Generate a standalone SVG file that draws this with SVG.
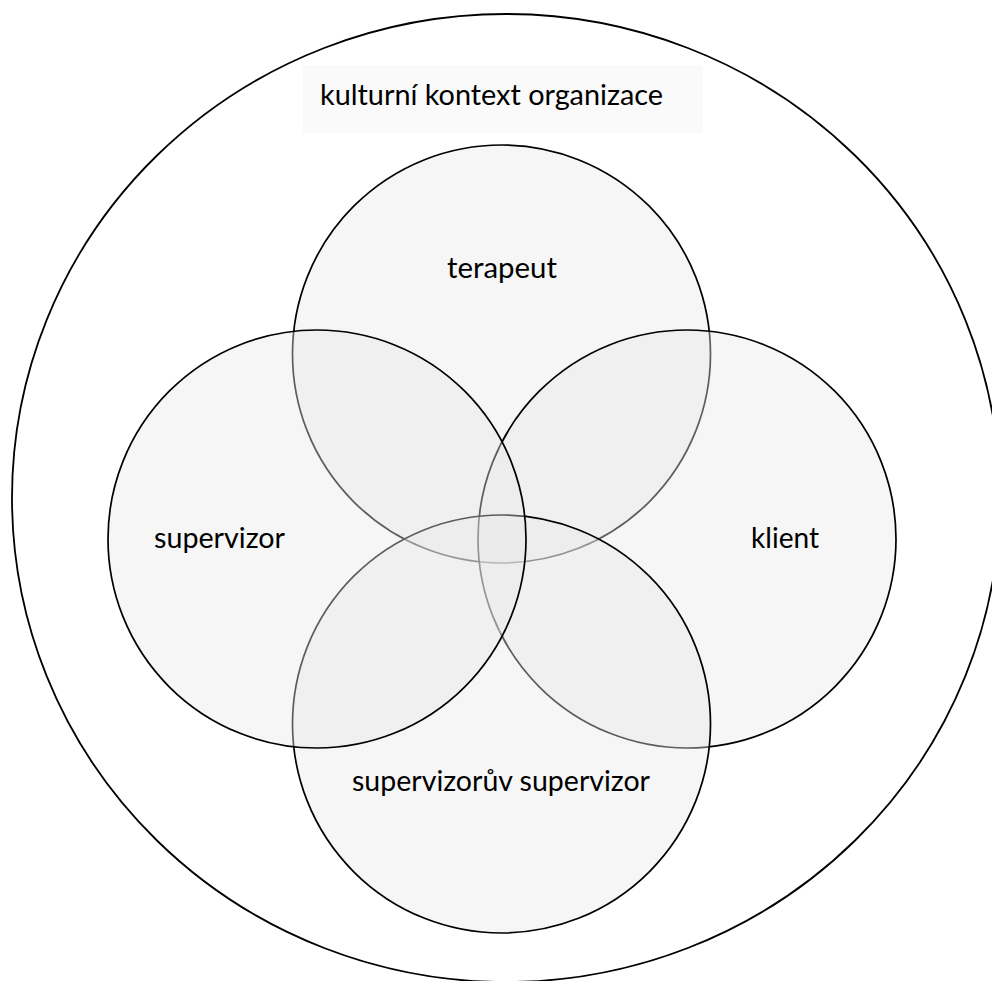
<svg xmlns="http://www.w3.org/2000/svg" width="992" height="981" viewBox="0 0 992 981">
  <style>
    .ring { fill: rgb(232,232,232); fill-opacity: 0.4; stroke: #000; stroke-width: 1.7; }
    .lbl { font-family: Lato, "Open Sans", "Liberation Sans", sans-serif; font-size: 29px; fill: #000; }
  </style>
  <rect x="0" y="0" width="992" height="981" fill="#fff"/>
  <g id="kontext">
    <ellipse cx="506" cy="498" rx="494" ry="484" fill="none" stroke="#000" stroke-width="1.8"/>
    <rect x="303" y="65" width="400" height="68" fill="#fafafa"/>
    <text class="lbl" x="320" y="105" textLength="343" lengthAdjust="spacingAndGlyphs">kulturní kontext organizace</text>
  </g>
  <g id="terapeut">
    <circle class="ring" cx="501.5" cy="354" r="209"/>
    <text class="lbl" x="447" y="278" textLength="110" lengthAdjust="spacingAndGlyphs">terapeut</text>
  </g>
  <g id="klient">
    <circle class="ring" cx="687" cy="539" r="209"/>
    <text class="lbl" x="751" y="548" textLength="68" lengthAdjust="spacingAndGlyphs">klient</text>
  </g>
  <g id="supervizoruv-supervizor">
    <circle class="ring" cx="501.5" cy="724" r="209"/>
    <text class="lbl" x="352" y="791" textLength="298" lengthAdjust="spacingAndGlyphs">supervizorův supervizor</text>
  </g>
  <g id="supervizor">
    <circle class="ring" cx="317" cy="539" r="209"/>
    <text class="lbl" x="154" y="548" textLength="131" lengthAdjust="spacingAndGlyphs">supervizor</text>
  </g>
  <g id="connectors"/>
</svg>
